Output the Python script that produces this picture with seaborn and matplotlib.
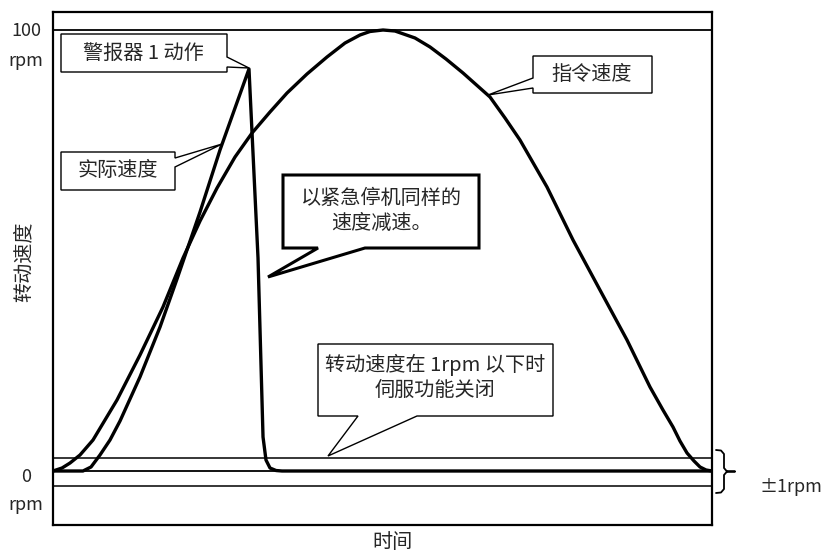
import numpy as np
import pandas as pd
import matplotlib
matplotlib.use("Agg")
import matplotlib.pyplot as plt
from matplotlib.patches import Polygon
from matplotlib.lines import Line2D
import seaborn as sns

# ---------------- data (time in % of cycle, speed in rpm-scale) ----------------
cmd_time = [0, 1.37, 2.58, 4.10, 6.07, 9.71, 13.20, 16.69, 19.73, 22.31, 24.89, 27.62,
            30.20, 32.93, 35.51, 38.54, 41.58, 44.31, 46.59, 48.10, 50.08, 51.90,
            54.93, 57.21, 59.64, 62.22, 66.31, 68.59, 70.86, 74.96, 78.91, 83.00,
            87.10, 90.59, 92.56, 94.08, 95.14, 96.21, 97.27, 98.18, 99.09, 100]
cmd_speed = [0, 0.68, 1.81, 3.63, 7.03, 16.10, 26.30, 37.19, 48.30, 56.69, 64.17, 71.20,
             76.64, 81.41, 85.71, 90.02, 93.88, 97.05, 98.87, 99.66, 100, 99.77,
             98.19, 96.15, 93.42, 90.25, 84.81, 80.05, 75.06, 64.40, 52.38, 41.04,
             29.71, 19.05, 13.83, 9.98, 6.80, 4.08, 2.27, 0.91, 0.23, 0]

act_time = [0, 4.55, 5.77, 7.13, 8.65, 10.17, 13.20, 16.24, 18.82, 22.31, 25.34, 29.74,
            31.11, 31.87, 32.32, 32.93, 33.84, 34.75, 100]
act_speed = [0, 0, 0.91, 3.63, 7.03, 11.34, 21.32, 32.65, 43.54, 58.73, 72.79, 91.16,
             48.30, 7.71, 2.49, 0.68, 0.11, 0, 0]

ref_levels = [100, 0]           # rpm reference lines
band_labels = ["±1rpm"]
y_tick_labels = ["100", "rpm", "0", "rpm"]

title_x = "时间"
title_y = "转动速度"
callout_texts = ["警报器 1 动作", "实际速度", "以紧急停机同样的\n速度减速。",
                 "转动速度在 1rpm 以下时\n伺服功能关闭", "指令速度"]

# ---------------- style ----------------
sns.set_theme(style="white")
plt.rcParams["font.family"] = ["Noto Sans CJK SC", "DejaVu Sans"]

W, H = 825, 553
fig = plt.figure(figsize=(W / 100, H / 100), dpi=100)
ax_l, ax_r, ax_t, ax_b = 53, 712, 12, 525
ax = fig.add_axes([ax_l / W, 1 - ax_b / H, (ax_r - ax_l) / W, (ax_b - ax_t) / H])

def px(x, y):
    return (x / W, 1 - y / H)

# y scale: 100 rpm at y=30px, 0 at y=471px
ppu = (471 - 30) / 100.0
ax.set_ylim((471 - ax_b) / ppu, (471 - ax_t) / ppu)
ax.set_xlim(0, 100)
ax.set_xticks([])
ax.set_yticks([])
for s in ax.spines.values():
    s.set_color("black")
    s.set_linewidth(1.6)
ax.set_facecolor("white")

# reference lines
band_hi = (471 - 458) / ppu
band_lo = (471 - 486) / ppu
for lv in ref_levels:
    ax.axhline(lv, color="black", lw=1.3, zorder=1)
ax.axhline(band_hi, color="black", lw=1.1, zorder=1)
ax.axhline(band_lo, color="black", lw=1.1, zorder=1)

cmd_df = pd.DataFrame({"t": cmd_time, "v": cmd_speed})
act_df = pd.DataFrame({"t": act_time, "v": act_speed})
sns.lineplot(data=cmd_df, x="t", y="v", ax=ax, color="black", lw=2.4,
             estimator=None, sort=False, zorder=3)
sns.lineplot(data=act_df, x="t", y="v", ax=ax, color="black", lw=2.4,
             estimator=None, sort=False, zorder=3)
for ln in ax.lines[-2:]:
    ln.set_solid_joinstyle("round")
    ln.set_solid_capstyle("round")
ax.set_xlabel("")
ax.set_ylabel("")

# ---------------- callouts (figure pixel layout) ----------------
def callout(points, lw):
    poly = Polygon([px(*p) for p in points], closed=True, transform=fig.transFigure,
                   facecolor="white", edgecolor="black", lw=lw, zorder=5,
                   joinstyle="miter")
    fig.add_artist(poly)

fs = 14.5
callout([(61, 34), (227, 34), (227, 57), (249, 68), (227, 67), (227, 72), (61, 72)], 1.0)
fig.text(*px(143, 53), callout_texts[0], ha="center", va="center", fontsize=fs, zorder=6)

callout([(61, 152), (175, 152), (175, 158), (222, 144), (175, 167), (175, 190), (61, 190)], 1.0)
fig.text(*px(118, 171), callout_texts[1], ha="center", va="center", fontsize=fs, zorder=6)

callout([(283, 175), (479, 175), (479, 248), (365, 248), (268, 277), (318, 248), (283, 248)], 2.2)
fig.text(*px(381, 211), callout_texts[2], ha="center", va="center", fontsize=fs,
         linespacing=1.25, zorder=6)

callout([(318, 344), (553, 344), (553, 416), (417, 416), (328, 456), (358, 416), (318, 416)], 1.0)
fig.text(*px(435, 377), callout_texts[3], ha="center", va="center", fontsize=fs,
         linespacing=1.25, zorder=6)

callout([(533, 56), (652, 56), (652, 93), (533, 93), (533, 88), (488, 95), (533, 78)], 1.0)
fig.text(*px(592, 74), callout_texts[4], ha="center", va="center", fontsize=fs, zorder=6)

# ---------------- axis texts ----------------
for (lx, ly), lab in zip([(26, 31), (26, 61), (26, 477), (26, 505)], y_tick_labels):
    fig.text(*px(lx, ly), lab, ha="center", va="center", fontsize=13)
fig.text(*px(24, 262), title_y, ha="center", va="center", rotation=90, fontsize=fs)
fig.text(*px(392, 543), title_x, ha="center", va="center", fontsize=fs)

# brace for +-1 rpm band
bx = [716, 721, 724, 724, 727, 735, 727, 724, 724, 721, 716]
by = [450, 450.5, 454, 468, 471.5, 471.5, 471.5, 475, 489, 492.5, 493]
fig.add_artist(Line2D([x / W for x in bx], [1 - y / H for y in by], color="black",
                      lw=1.3, transform=fig.transFigure, solid_joinstyle="round"))
fig.text(*px(791, 487), band_labels[0], ha="center", va="center", fontsize=13)

fig.savefig("out.png", dpi=100, facecolor="white")
